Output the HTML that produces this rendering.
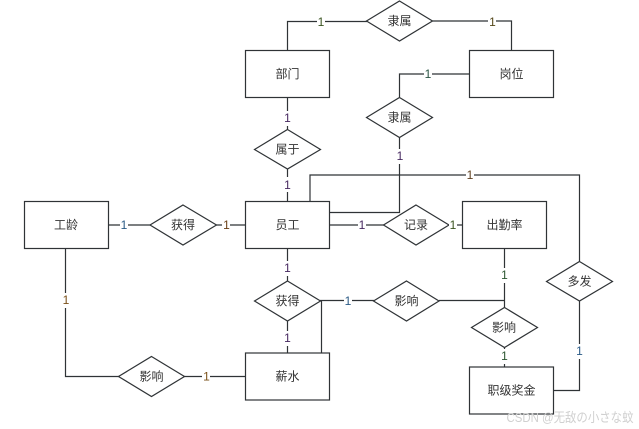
<!DOCTYPE html>
<html><head><meta charset="utf-8"><style>
html,body{margin:0;padding:0;background:#fff;width:639px;height:429px;overflow:hidden}
svg{display:block}
text{font-family:"Liberation Sans","Noto Sans CJK SC",sans-serif;font-size:12px;fill:#333;text-anchor:middle;dominant-baseline:central}
.s{fill:#fff;stroke:#2f3336;stroke-width:1.2}
.l{fill:none;stroke:#2f3336;stroke-width:1.2}
text.o{font-size:12px}
</style></head><body>
<svg width="639" height="429" viewBox="0 0 639 429" xmlns="http://www.w3.org/2000/svg">
<g class="l">
<path d="M287.5 50V21.5H367"/>
<path d="M432.5 21H511.5V50"/>
<path d="M469 74H399.5V97"/>
<path d="M399.5 137V212.5H329.5"/>
<path d="M310 201V175H579.5V261"/>
<path d="M287.5 97V129M287.5 169V201M287.5 249V281M287.5 321V353"/>
<path d="M108 225H150M216 225H245M329.5 225H384M449 225H462"/>
<path d="M65.5 249V376.5H119M184 376.5H245"/>
<path d="M320 300.5H374M321.5 301V353"/>
<path d="M439 300.5H504.5M504.5 249V307.5M504.5 347V367"/>
<path d="M579.5 301V390.5H553.5"/>
</g>
<g class="s">
<rect x="245.5" y="50.5" width="84" height="47"/>
<rect x="469.5" y="50.5" width="84" height="47"/>
<rect x="245.5" y="201.5" width="84" height="47"/>
<rect x="24.5" y="201.5" width="84" height="47"/>
<rect x="462.5" y="201.5" width="84" height="47"/>
<rect x="245.5" y="353" width="84" height="47"/>
<rect x="469.5" y="367" width="84" height="47"/>
<polygon points="399.5,1 432.5,21 399.5,41 366.5,21"/>
<polygon points="399.5,97.5 432.5,117.5 399.5,137.5 366.5,117.5"/>
<polygon points="287.5,129.5 320.5,149.5 287.5,169 254.5,149.5"/>
<polygon points="183,205 216.5,225 183,245 150,225"/>
<polygon points="416,205 449,225 416,245 383.5,225"/>
<polygon points="287.5,281 320.5,301 287.5,321 254.5,301"/>
<polygon points="406.5,281 439,301 406.5,321 373.5,301"/>
<polygon points="504.5,307.5 537.5,327.5 504.5,347.5 471.5,327.5"/>
<polygon points="579.5,261.5 612.5,281.5 579.5,301 546.5,281.5"/>
<polygon points="151.5,356.5 184.5,376.5 151.5,396.5 118.5,376.5"/>
</g>
<g>
<text x="287.5" y="74">部门</text>
<text x="511.5" y="74">岗位</text>
<text x="399.5" y="21">隶属</text>
<text x="399.5" y="117.5">隶属</text>
<text x="287.5" y="149.5">属于</text>
<text x="287.5" y="225">员工</text>
<text x="66" y="225">工龄</text>
<text x="183" y="225">获得</text>
<text x="416" y="225">记录</text>
<text x="504.5" y="225">出勤率</text>
<text x="287.5" y="301">获得</text>
<text x="406.5" y="301">影响</text>
<text x="504" y="327.5">影响</text>
<text x="579.5" y="281.5">多发</text>
<text x="151.5" y="376.5">影响</text>
<text x="287.5" y="376.5">薪水</text>
<text x="511.5" y="390.5">职级奖金</text>
</g>
<g fill="#fff">
<rect x="317" y="14" width="8" height="15"/><rect x="488" y="14" width="8" height="15"/>
<rect x="424" y="67" width="8" height="15"/><rect x="283.5" y="111" width="8" height="15"/>
<rect x="283.5" y="177" width="8" height="15"/><rect x="396" y="149" width="8" height="15"/>
<rect x="466" y="168" width="8" height="15"/><rect x="120" y="218" width="8" height="15"/>
<rect x="222" y="218" width="8" height="15"/><rect x="358" y="218" width="8" height="15"/>
<rect x="449" y="218" width="8" height="15"/><rect x="283.5" y="261" width="8" height="15"/>
<rect x="283.5" y="331" width="8" height="15"/><rect x="62" y="293" width="8" height="15"/>
<rect x="202" y="369" width="8" height="15"/><rect x="344" y="293" width="8" height="15"/>
<rect x="500.5" y="268" width="8" height="15"/><rect x="500.5" y="349" width="8" height="15"/>
<rect x="575.5" y="344" width="8" height="15"/>
</g>
<g>
<text class="o" x="321" y="22" style="fill:#3a5420">1</text>
<text class="o" x="492.5" y="22" style="fill:#54481a">1</text>
<text class="o" x="428" y="74" style="fill:#2a5444">1</text>
<text class="o" x="287.5" y="118" style="fill:#46285f">1</text>
<text class="o" x="287.5" y="185" style="fill:#46285f">1</text>
<text class="o" x="400" y="156" style="fill:#46285f">1</text>
<text class="o" x="470" y="175" style="fill:#5f4020">1</text>
<text class="o" x="124" y="225" style="fill:#2a5a85">1</text>
<text class="o" x="226.5" y="225" style="fill:#6a4018">1</text>
<text class="o" x="362" y="225" style="fill:#46285f">1</text>
<text class="o" x="453" y="225" style="fill:#3a5420">1</text>
<text class="o" x="287.5" y="268" style="fill:#46285f">1</text>
<text class="o" x="287.5" y="338" style="fill:#46285f">1</text>
<text class="o" x="66" y="300" style="fill:#7a5018">1</text>
<text class="o" x="206.5" y="376.5" style="fill:#7a5018">1</text>
<text class="o" x="348" y="301" style="fill:#2a5a85">1</text>
<text class="o" x="504.5" y="275" style="fill:#2a5430">1</text>
<text class="o" x="504.5" y="356" style="fill:#2a5430">1</text>
<text class="o" x="579.5" y="351" style="fill:#2a5a85">1</text>
</g>
<text x="570" y="417.5" style="font-size:13px;fill:#d0d0d0" textLength="127" lengthAdjust="spacingAndGlyphs">CSDN @无敌の小さな蚊</text>
</svg>
</body></html>
